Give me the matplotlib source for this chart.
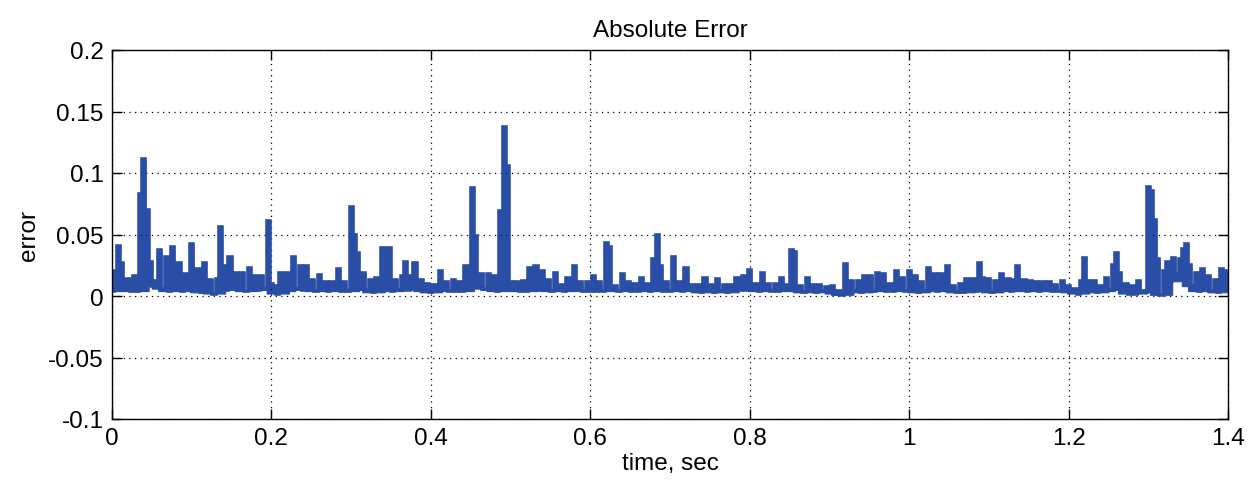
import numpy as np
import matplotlib
matplotlib.use("Agg")
import matplotlib.pyplot as plt

# Absolute error samples (in units of 1e-3), sampled every 0.004 s from 0 to 1.4 s
error_milli = [
    4, 20, 41, 27, 6, 14, 4, 16, 4, 83, 111, 70, 28, 8, 12, 37, 6, 32, 4, 40,
    8, 27, 4, 18, 5, 42, 6, 22, 3, 27, 4, 13, 2, 14, 56, 24, 5, 32, 6, 19,
    6, 19, 4, 23, 6, 16, 5, 16, 6, 61, 10, 8, 2, 19, 4, 19, 6, 32, 6, 24,
    5, 24, 6, 13, 4, 17, 5, 11, 4, 11, 5, 22, 4, 11, 4, 72, 50, 35, 6, 19,
    5, 13, 3, 15, 5, 39, 6, 39, 4, 13, 5, 16, 28, 5, 16, 27, 6, 13, 4, 10,
    3, 9, 5, 20, 5, 11, 4, 13, 4, 11, 4, 24, 6, 88, 49, 7, 18, 6, 18, 5,
    16, 4, 69, 137, 106, 11, 5, 11, 4, 12, 4, 23, 6, 24, 5, 20, 5, 13, 4, 19,
    5, 9, 4, 15, 5, 24, 6, 11, 4, 11, 4, 16, 4, 11, 4, 43, 40, 5, 8, 4,
    18, 6, 11, 4, 10, 4, 15, 5, 10, 4, 30, 50, 24, 4, 11, 4, 32, 6, 11, 4,
    23, 6, 9, 4, 9, 3, 15, 5, 9, 3, 14, 4, 9, 3, 9, 5, 15, 5, 16, 5,
    21, 6, 10, 4, 19, 5, 10, 4, 10, 4, 15, 5, 9, 37, 36, 4, 8, 3, 15, 5,
    9, 3, 9, 4, 7, 3, 8, 2, 4, 1, 26, 10, 12, 4, 12, 3, 16, 5, 16, 4,
    19, 5, 18, 4, 10, 4, 20, 5, 15, 4, 20, 5, 16, 3, 11, 4, 23, 5, 18, 4,
    18, 5, 24, 5, 8, 3, 10, 3, 14, 5, 14, 4, 27, 15, 4, 14, 3, 12, 4, 18,
    5, 14, 4, 13, 24, 6, 13, 4, 12, 5, 11, 4, 11, 5, 11, 4, 9, 4, 12, 5,
    8, 3, 6, 2, 12, 31, 12, 5, 12, 3, 8, 4, 15, 5, 25, 35, 19, 8, 10, 2,
    8, 2, 12, 4, 3, 89, 85, 62, 30, 1, 20, 28, 12, 31, 18, 30, 38, 42, 25, 8,
    19, 4, 22, 5, 16, 4, 13, 3, 22, 20, 18,
]
sample_step = 0.004
error = np.array(error_milli) / 1000.0
time = np.arange(len(error)) * sample_step

xticks = [0, 0.2, 0.4, 0.6, 0.8, 1.0, 1.2, 1.4]
xtick_labels = ["0", "0.2", "0.4", "0.6", "0.8", "1", "1.2", "1.4"]
yticks = [-0.1, -0.05, 0, 0.05, 0.1, 0.15, 0.2]
ytick_labels = ["-0.1", "-0.05", "0", "0.05", "0.1", "0.15", "0.2"]

plt.rcParams['font.family'] = ['Liberation Sans', 'DejaVu Sans']

fig = plt.figure(figsize=(12.51, 4.89), dpi=100)
ax = fig.add_axes([112/1251, 1 - 420/489, (1228-112)/1251, (420-51)/489])

line_color = '#2a4ea6'
# the signal oscillates faster than the plot resolution: fill each sample
# down to the local minimum of the signal so the band appears solid
half_window = 3
padded = np.pad(error, half_window, mode='edge')
local_min = np.lib.stride_tricks.sliding_window_view(
    padded, 2 * half_window + 1).min(axis=1)
ax.fill_between(time, local_min, error, step='mid', facecolor=line_color,
                edgecolor=line_color, linewidth=0.8)
ax.plot(time, error, color=line_color, linewidth=2.6, drawstyle='steps-mid',
        solid_joinstyle='miter', solid_capstyle='butt')

ax.set_xlim(0, 1.4)
ax.set_ylim(-0.1, 0.2)
ax.set_xticks(xticks)
ax.set_xticklabels(xtick_labels)
ax.set_yticks(yticks)
ax.set_yticklabels(ytick_labels)

ax.grid(True, linestyle=(0, (1, 3.5)), color='black', linewidth=0.9)
ax.tick_params(direction='in', length=7, width=1, labelsize=17.5,
               top=True, right=True, pad=6)
for s in ax.spines.values():
    s.set_linewidth(1.0)
    s.set_color('black')

ax.set_title("Absolute Error", fontsize=17.5, pad=10)
ax.set_xlabel("time, sec", fontsize=17.5, labelpad=2)
ax.set_ylabel("error", fontsize=17.5, labelpad=6)

fig.savefig("out.png", dpi=100)
